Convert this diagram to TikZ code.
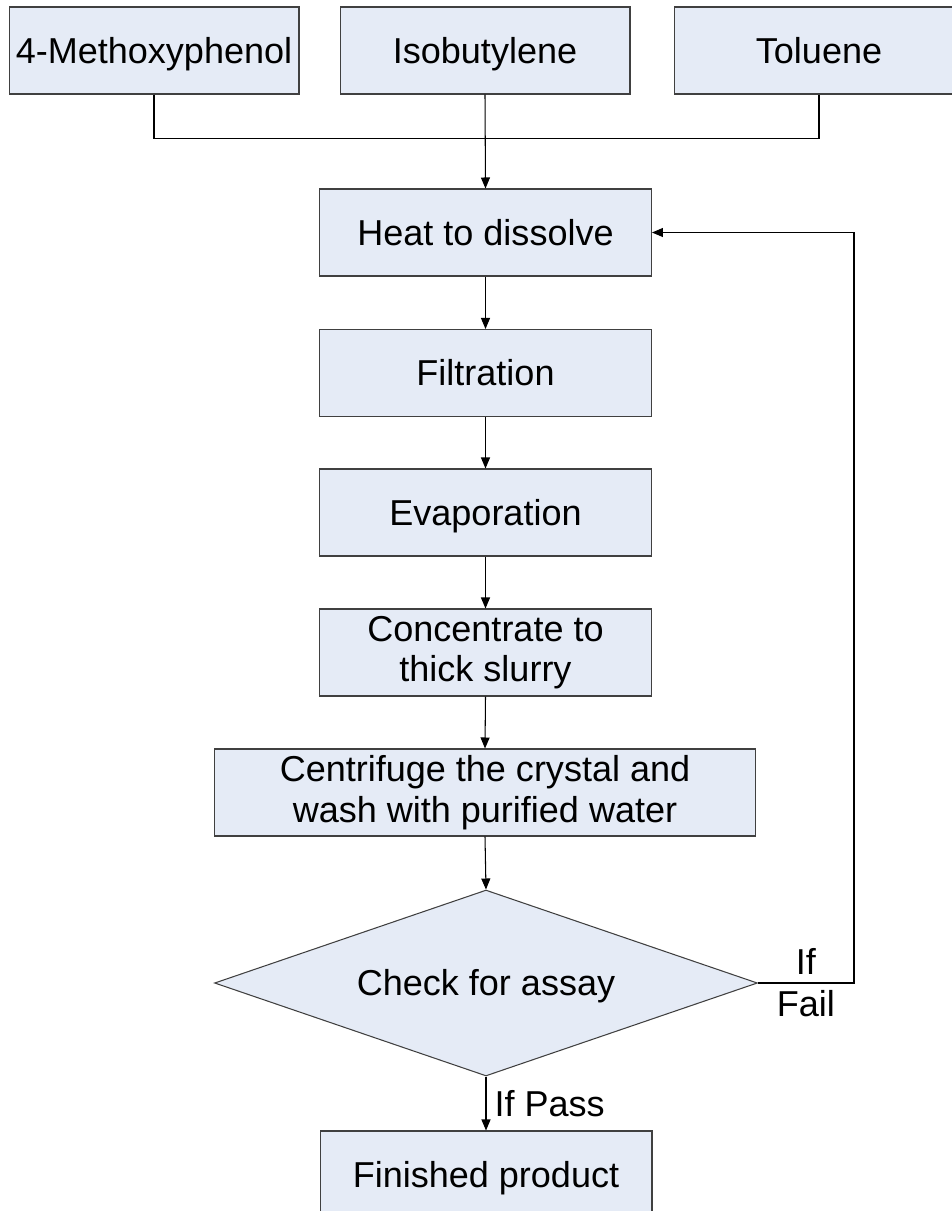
\documentclass[tikz,border=0pt]{standalone}
\usepackage{fontspec}
\setmainfont{Liberation Sans}
\usetikzlibrary{arrows.meta}
\usetikzlibrary{shapes.geometric}
\usepackage{xcolor}
\definecolor{boxblue}{RGB}{229,235,246}
\definecolor{edgegray}{RGB}{64,64,64}
\newcommand{\chartfont}{\fontsize{20.5}{23}\selectfont}

\begin{document}
\begin{tikzpicture}[x=0.02cm, y=-0.02cm, >={Triangle[length=0.22cm,width=0.18cm]},
  box/.style={draw=edgegray, line width=0.6pt, fill=boxblue, minimum width=6.64cm, minimum height=1.74cm, inner sep=1pt, align=center, font=\chartfont},
  oneline/.style={text height=14.7pt, text depth=0pt},
  decision/.style={box, oneline, diamond, aspect=2.92, minimum width=10.86cm, minimum height=3.72cm, inner sep=0pt},
  flow/.style={black, line width=0.6pt},
  lbl/.style={font=\chartfont, inner sep=0pt}]
\useasboundingbox (0,0) rectangle (952,1211);
\clip (0,0) rectangle (952,1211);
% raw materials
\node[box, oneline, minimum width=5.8cm] (meth) at (154,50.5) {4-Methoxyphenol};
\node[box, oneline, minimum width=5.8cm] (isob) at (485,50.5) {Isobutylene};
\node[box, oneline, minimum width=5.8cm] (tolu) at (819,50.5) {Toluene};
% process steps
\node[box, oneline] (heat) at (485.5,232.5) {Heat to dissolve};
\node[box, oneline] (filt) at (485.5,373) {Filtration};
\node[box, oneline] (evap) at (485.5,512.5) {Evaporation};
\node[box] (conc) at (485.5,652.5) {Concentrate to\\thick slurry};
\node[box, minimum width=10.84cm] (cent) at (485,792.5) {Centrifuge the crystal and\\wash with purified water};
\node[decision] (check) at (486,983) {Check for assay};
\node[box, oneline] (fin) at (486,1174.5) {Finished product};

\draw[flow] (meth.south) -- ++(0,44) -| (tolu.south);
\draw[flow, ->] (isob.south) -- (heat.north);
\draw[flow, ->] (heat.south) -- (filt.north);
\draw[flow, ->] (filt.south) -- (evap.north);
\draw[flow, ->] (evap.south) -- (conc.north);
\draw[flow, ->] (conc.south) -- (cent.north);
\draw[flow, ->] (cent.south) -- (check.north);
\draw[flow, ->] (check.south) -- node[lbl, right, xshift=0.16cm]{If Pass} (fin.north);
% retest loop
\draw[flow, ->] (check.east) -- node[lbl, align=center]{If\\[1pt]Fail} ++(96,0) |- (heat.east);
\end{tikzpicture}
\end{document}
